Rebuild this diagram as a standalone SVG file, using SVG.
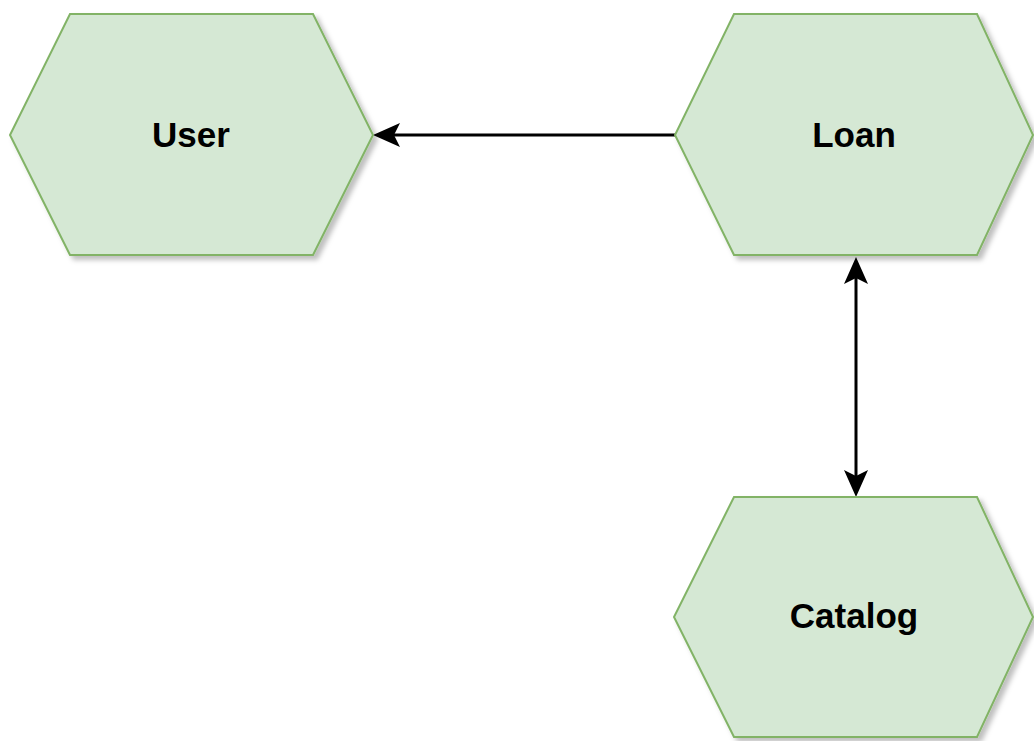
<svg xmlns="http://www.w3.org/2000/svg" width="1034" height="741" viewBox="0 0 1034 741">
  <style>
    .hex { fill: #d5e8d4; stroke: #82b366; stroke-width: 2; filter: url(#shadow); }
    .label { font-family: "Liberation Sans", Arial, Helvetica, sans-serif; font-size: 35px; font-weight: bold; fill: #000000; text-anchor: middle; }
    .edge { fill: none; stroke: #000000; stroke-width: 3; }
  </style>
  <defs>
    <filter id="shadow" x="-10%" y="-10%" width="130%" height="130%">
      <feDropShadow dx="4" dy="4" stdDeviation="2.5" flood-color="#000000" flood-opacity="0.25"/>
    </filter>
    <!-- classic arrowhead; reference point sits at the notch so the line ends inside the head -->
    <marker id="arrow" viewBox="0 0 28 24" markerWidth="28" markerHeight="24" refX="6" refY="12" orient="auto-start-reverse" markerUnits="userSpaceOnUse">
      <path d="M27,12 L0,0 L6,12 L0,24 Z" fill="#000000"/>
    </marker>
  </defs>

  <g id="connectors">
    <!-- Loan -> User -->
    <path class="edge" d="M675,135 L394,135" marker-end="url(#arrow)"/>
    <!-- Loan <-> Catalog -->
    <path class="edge" d="M856,278 L856,476" marker-start="url(#arrow)" marker-end="url(#arrow)"/>
  </g>

  <g id="node-user">
    <polygon class="hex" points="70,14 313,14 373,135 313,255 70,255 10,135"/>
    <text class="label" x="191" y="147">User</text>
  </g>

  <g id="node-loan">
    <polygon class="hex" points="734,14 977,14 1033,135 977,255 734,255 675,135"/>
    <text class="label" x="854" y="147">Loan</text>
  </g>

  <g id="node-catalog">
    <polygon class="hex" points="734,497 977,497 1033,617 977,737 734,737 674,617"/>
    <text class="label" x="854" y="628">Catalog</text>
  </g>
</svg>
